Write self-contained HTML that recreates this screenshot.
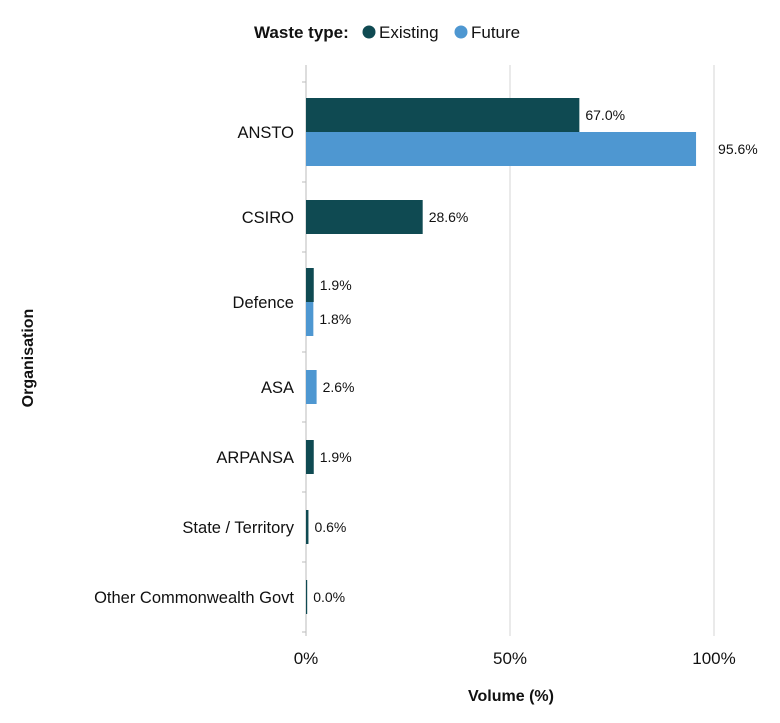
<!DOCTYPE html>
<html><head><meta charset="utf-8"><style>
body{margin:0;background:#fff;font-family:"Liberation Sans",sans-serif;}
svg text{font-family:"Liberation Sans",sans-serif;}
</style></head><body>
<svg id="chart" width="780" height="718" viewBox="0 0 780 718">
<g>
<text x="254" y="38" font-size="17" font-weight="bold" fill="#111">Waste type:</text>
<circle cx="369" cy="32" r="6.5" fill="#0f4a52"/>
<text x="379" y="38" font-size="17" fill="#111">Existing</text>
<circle cx="461" cy="32" r="6.5" fill="#4e97d1"/>
<text x="471" y="38" font-size="17" fill="#111">Future</text>
</g>
<text transform="translate(33,358) rotate(-90)" text-anchor="middle" font-size="16" font-weight="bold" fill="#111">Organisation</text>
<text x="511" y="701" text-anchor="middle" font-size="16" font-weight="bold" fill="#111">Volume (%)</text>
<g id="grid"></g><g id="bars"></g><g id="labels"></g>
</svg>
<script>
const categories=["ANSTO","CSIRO","Defence","ASA","ARPANSA","State / Territory","Other Commonwealth Govt"];
const existing=[67.0,28.6,1.9,null,1.9,0.6,0.0];
const future=[95.6,null,1.8,2.6,null,null,null];
const xTicks=[0,50,100];
const xTickLabels=["0%","50%","100%"];
const NS="http://www.w3.org/2000/svg";
const x0=306,pxPer=4.08,yTop=82,barH=34;
const xs=v=>x0+v*pxPer;
function mk(tag,attrs,parent){const e=document.createElementNS(NS,tag);for(const k in attrs)e.setAttribute(k,attrs[k]);parent.appendChild(e);return e;}
const grid=document.getElementById('grid'),bars=document.getElementById('bars'),labels=document.getElementById('labels');
xTicks.forEach((t,i)=>{
 const g=mk('line',{x1:xs(t),x2:xs(t),y1:65,y2:636,stroke:t===0?'#bbb':'#d4d4d4','stroke-width':1},grid);
 
 
 const tl=mk('text',{x:xs(t),y:664,'text-anchor':'middle','font-size':17,fill:'#111'},labels);
 tl.textContent=xTickLabels[i];
 
 
});
let y=yTop;
const tk=mk('line',{x1:x0-4,x2:x0,y1:y,y2:y,stroke:'#bbb'},grid);


categories.forEach((c,i)=>{
 const vals=[[existing[i],'#0f4a52','existing'],[future[i],'#4e97d1','future']].filter(d=>d[0]!==null);
 const band=vals.length===2?100:70;
 const center=y+band/2;
 let by=center-vals.length*barH/2;
 vals.forEach(d=>{
  const w=Math.max(d[0]*pxPer,1.2);
  const r=mk('rect',{x:x0,y:by,width:w,height:barH,fill:d[1]},bars);
  
  
  const vl=mk('text',{x:x0+w+(d[0]>90?22:6),y:by+barH/2+5,'font-size':14,fill:'#111'},labels);
  vl.textContent=d[0].toFixed(1)+'%';
  
  
  by+=barH;
 });
 const cl=mk('text',{x:294,y:center+6,'text-anchor':'end','font-size':16.5,fill:'#111'},labels);
 cl.textContent=c;
 
 
 y+=band;
 const t2=mk('line',{x1:x0-4,x2:x0,y1:y,y2:y,stroke:'#bbb'},grid);
 
 
});
</script>
</body></html>
